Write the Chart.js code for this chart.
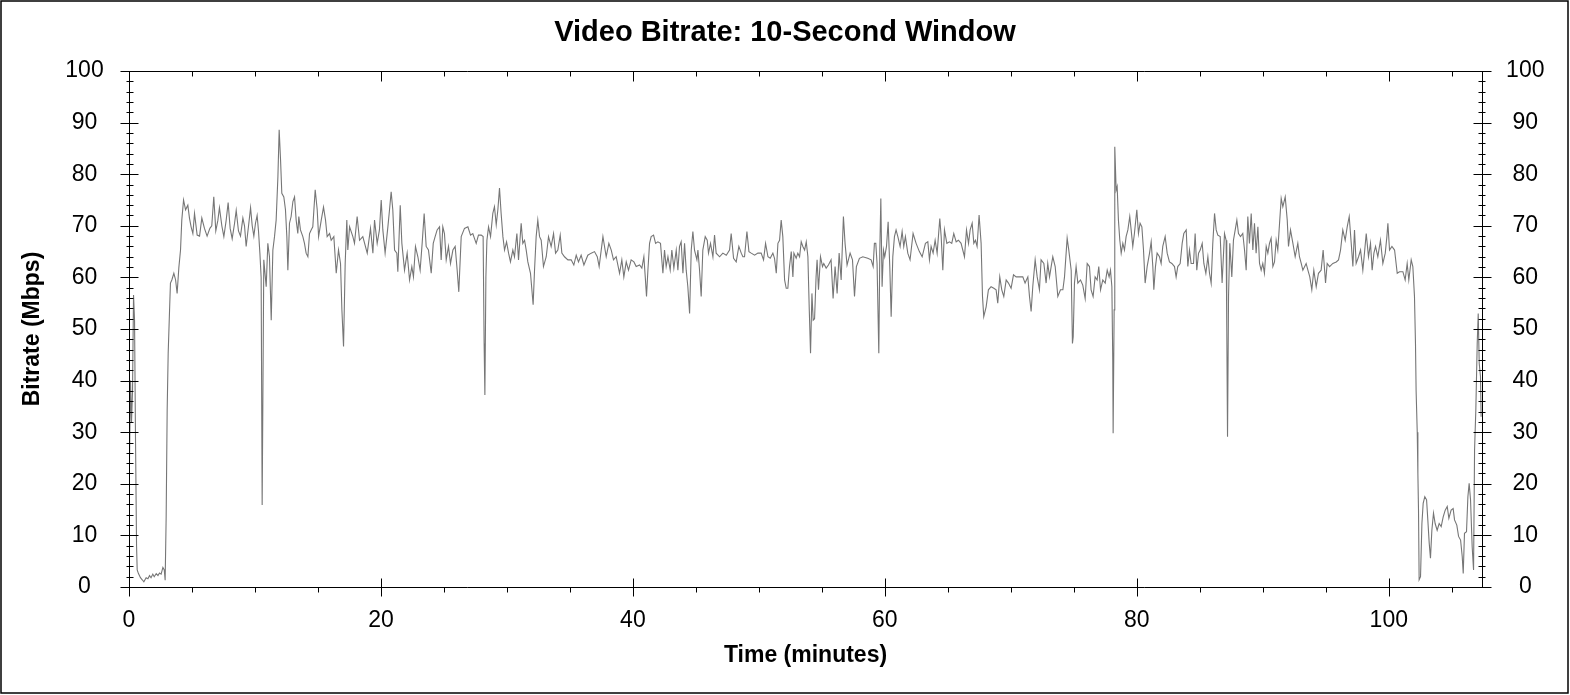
<!DOCTYPE html>
<html lang="en">
<head>
    <meta charset="UTF-8">
    <title>Video Bitrate: 10-Second Window</title>
    <style>
        html, body { margin: 0; padding: 0; background: #fff; }
        canvas { display: block; }
    </style>
</head>
<body>
<canvas id="bitrate-chart" width="1570" height="695"></canvas>

<script src="https://cdn.jsdelivr.net/npm/chart.js@4.4.1/dist/chart.umd.min.js"></script>
<script>
    // Samples: time in minutes, bitrate in Mbps
    const minutes = [
        0, 0.04, 0.12, 0.2, 0.28, 0.36, 0.44, 0.52, 0.6, 0.65, 0.75, 0.91, 1.05, 1.18, 1.36, 1.5, 1.63, 1.75, 1.89, 2.0,
        2.16, 2.3, 2.42, 2.55, 2.69, 2.8, 2.87, 2.95, 3.03, 3.11, 3.22, 3.29, 3.4, 3.56, 3.7, 3.82, 3.96, 4.09, 4.19, 4.33,
        4.49, 4.67, 4.8, 4.93, 5.07, 5.2, 5.41, 5.6, 5.78, 5.99, 6.2, 6.42, 6.57, 6.73, 6.89, 7.05, 7.18, 7.37, 7.53, 7.71,
        7.87, 8.03, 8.19, 8.38, 8.51, 8.69, 8.85, 9.04, 9.17, 9.3, 9.49, 9.65, 9.78, 9.91, 10.04, 10.17, 10.28, 10.39, 10.49, 10.57,
        10.7, 10.89, 11.02, 11.15, 11.29, 11.42, 11.55, 11.68, 11.82, 11.92, 12.03, 12.13, 12.29, 12.42, 12.53, 12.61, 12.74, 12.87, 13.01, 13.14,
        13.27, 13.4, 13.48, 13.61, 13.8, 13.93, 14.06, 14.2, 14.33, 14.46, 14.59, 14.78, 14.94, 15.05, 15.26, 15.44, 15.6, 15.73, 15.92, 16.05,
        16.26, 16.45, 16.63, 16.79, 16.9, 17.03, 17.16, 17.29, 17.37, 17.51, 17.77, 17.9, 18.11, 18.3, 18.56, 18.91, 19.17, 19.36, 19.49, 19.7,
        19.88, 20.02, 20.15, 20.33, 20.55, 20.68, 20.81, 20.94, 21.08, 21.26, 21.34, 21.53, 21.66, 21.87, 22.08, 22.27, 22.45, 22.58, 22.74, 22.93,
        23.11, 23.27, 23.43, 23.59, 23.77, 23.99, 24.15, 24.3, 24.46, 24.65, 24.78, 24.91, 25.04, 25.18, 25.36, 25.52, 25.71, 25.89, 26.05, 26.18,
        26.37, 26.63, 26.9, 27.11, 27.29, 27.56, 27.74, 27.96, 28.11, 28.19, 28.25, 28.33, 28.41, 28.54, 28.7, 28.88, 29.01, 29.15, 29.28, 29.41,
        29.54, 29.68, 29.81, 29.97, 30.13, 30.28, 30.47, 30.6, 30.79, 30.92, 31.13, 31.26, 31.4, 31.53, 31.66, 31.87, 32.08, 32.19, 32.32, 32.45,
        32.59, 32.72, 32.9, 33.12, 33.3, 33.51, 33.7, 33.86, 34.04, 34.23, 34.36, 34.57, 34.84, 35.1, 35.31, 35.5, 35.68, 35.89, 36.11, 36.42,
        36.69, 36.95, 37.17, 37.32, 37.62, 37.88, 38.09, 38.28, 38.46, 38.67, 38.94, 39.12, 39.28, 39.47, 39.65, 39.86, 40.08, 40.26, 40.53, 40.71,
        40.87, 40.98, 41.08, 41.19, 41.32, 41.45, 41.64, 41.8, 41.98, 42.19, 42.38, 42.51, 42.64, 42.78, 42.96, 43.09, 43.25, 43.44, 43.57, 43.7,
        43.83, 43.97, 44.1, 44.23, 44.36, 44.5, 44.63, 44.76, 44.89, 45.08, 45.16, 45.29, 45.42, 45.55, 45.74, 45.9, 46.0, 46.16, 46.35, 46.48,
        46.61, 46.88, 47.14, 47.41, 47.67, 47.8, 47.99, 48.2, 48.41, 48.6, 48.73, 48.86, 49.05, 49.21, 49.39, 49.66, 49.92, 50.18, 50.37, 50.53,
        50.72, 50.9, 51.11, 51.24, 51.38, 51.51, 51.64, 51.77, 51.9, 52.04, 52.17, 52.3, 52.43, 52.57, 52.7, 52.78, 52.96, 53.09, 53.23, 53.36,
        53.49, 53.63, 53.76, 53.89, 54.0, 54.1, 54.21, 54.31, 54.42, 54.54, 54.62, 54.73, 54.89, 55.05, 55.15, 55.34, 55.52, 55.73, 55.89, 56.05,
        56.21, 56.37, 56.53, 56.71, 56.84, 57.0, 57.24, 57.43, 57.59, 57.74, 57.98, 58.25, 58.64, 58.91, 59.07, 59.17, 59.28, 59.38, 59.52, 59.6,
        59.68, 59.78, 59.89, 59.99, 60.13, 60.26, 60.39, 60.5, 60.63, 60.76, 60.89, 61.03, 61.21, 61.37, 61.5, 61.63, 61.82, 62.0, 62.24, 62.48,
        62.74, 62.96, 63.22, 63.41, 63.54, 63.67, 63.83, 63.99, 64.15, 64.36, 64.47, 64.6, 64.73, 64.92, 65.13, 65.31, 65.47, 65.66, 65.84, 66.05,
        66.32, 66.48, 66.64, 66.77, 66.93, 67.06, 67.19, 67.32, 67.48, 67.64, 67.75, 67.85, 68.04, 68.22, 68.43, 68.65, 68.83, 68.96, 69.12, 69.28,
        69.44, 69.63, 69.81, 70.02, 70.21, 70.42, 70.68, 70.95, 71.13, 71.35, 71.48, 71.61, 71.74, 71.93, 72.09, 72.27, 72.4, 72.62, 72.8, 72.93,
        73.07, 73.2, 73.33, 73.52, 73.73, 73.94, 74.13, 74.26, 74.47, 74.6, 74.79, 74.89, 74.95, 75.05, 75.18, 75.32, 75.53, 75.71, 75.9, 76.06,
        76.24, 76.37, 76.53, 76.69, 76.85, 76.98, 77.12, 77.3, 77.49, 77.65, 77.8, 77.91, 78.02, 78.09, 78.12, 78.2, 78.25, 78.36, 78.44, 78.54,
        78.65, 78.76, 78.89, 79.02, 79.15, 79.29, 79.44, 79.55, 79.68, 79.81, 80.0, 80.13, 80.26, 80.4, 80.53, 80.66, 80.82, 81.01, 81.14, 81.27,
        81.35, 81.48, 81.61, 81.8, 81.93, 82.06, 82.25, 82.41, 82.59, 82.78, 82.99, 83.12, 83.25, 83.44, 83.6, 83.73, 83.92, 84.05, 84.18, 84.31,
        84.5, 84.63, 84.76, 84.9, 85.03, 85.19, 85.32, 85.48, 85.64, 85.77, 85.9, 86.03, 86.17, 86.3, 86.43, 86.62, 86.77, 86.96, 87.09, 87.14,
        87.2, 87.28, 87.38, 87.54, 87.67, 87.81, 87.94, 88.07, 88.23, 88.41, 88.55, 88.68, 88.81, 88.94, 89.08, 89.21, 89.34, 89.47, 89.61, 89.74,
        89.87, 90.0, 90.13, 90.27, 90.4, 90.53, 90.66, 90.8, 90.93, 91.06, 91.19, 91.33, 91.46, 91.59, 91.78, 91.94, 92.04, 92.2, 92.39, 92.57,
        92.78, 92.91, 93.05, 93.18, 93.44, 93.58, 93.73, 93.89, 94.05, 94.24, 94.42, 94.63, 94.79, 94.98, 95.11, 95.3, 95.56, 95.83, 96.01, 96.17,
        96.35, 96.54, 96.7, 96.86, 97.02, 97.15, 97.28, 97.41, 97.6, 97.76, 97.94, 98.07, 98.21, 98.39, 98.55, 98.68, 98.82, 98.95, 99.13, 99.34,
        99.53, 99.72, 99.85, 99.93, 100.06, 100.25, 100.46, 100.67, 100.85, 101.12, 101.3, 101.46, 101.59, 101.78, 101.91, 102.04, 102.12, 102.17, 102.26, 102.31,
        102.36, 102.41, 102.52, 102.63, 102.73, 102.86, 103.0, 103.1, 103.21, 103.31, 103.42, 103.55, 103.68, 103.84, 104.0, 104.16, 104.32, 104.48, 104.64, 104.77,
        104.95, 105.11, 105.22, 105.4, 105.54, 105.7, 105.83, 105.91, 106.01, 106.17, 106.28, 106.38, 106.49, 106.62, 106.73, 106.81, 106.91, 107.02, 107.1, 107.18,
        107.28, 107.33
    ];

    const mbps = [
        24, 24.6, 40, 32, 38, 56.6, 51.7, 27.8, 8, 3.3, 2.6, 1.8, 1.4, 1.0, 1.8, 1.6, 2.2, 1.8, 2.5, 2.0,
        2.6, 2.2, 2.7, 2.5, 3.8, 3.3, 1.3, 13.6, 34.3, 45.3, 53.7, 58.9, 59.5, 60.8, 59.5, 56.9, 62, 65.3, 71.1, 75,
        73.1, 74, 71.5, 69.8, 68.5, 72.4, 68.2, 68, 71.5, 69.5, 68, 69.5, 70, 75.6, 69, 71, 73.5, 70, 67.9, 71,
        74.5, 69.5, 67.5, 70.5, 73, 69, 68, 71.5, 70, 66, 70, 73.5, 70, 68, 70.5, 72, 69, 64.7, 60, 15.9,
        63.4, 58.2, 66.6, 64, 51.7, 65.3, 67.9, 71.1, 79.5, 88.6, 82.8, 76.3, 75.6, 73.1, 67.9, 61.4, 70.5, 71.8, 74.7, 75.6,
        71.1, 68.5, 71.8, 69.2, 67.9, 66.6, 64.7, 64, 68.5, 69.2, 69.8, 77, 73.1, 67.9, 71.1, 73.6, 71.1, 67.9, 68.5, 67.2,
        67.9, 60.8, 65.3, 62.7, 53.7, 46.6, 62.7, 71.1, 65.3, 69.8, 67.9, 66.6, 71.8, 67.2, 67.9, 64.7, 69.5, 64.7, 71.1, 66.6,
        69.2, 75, 69.2, 64.7, 69.8, 73.1, 76.6, 73.1, 65.3, 64.7, 61.1, 74, 66.6, 61.4, 64.7, 59.5, 62.1, 60.1, 66, 64,
        61.4, 66.6, 72.4, 66, 65.3, 60.8, 66.6, 67.9, 69.2, 69.8, 63.4, 69.8, 68.5, 63.4, 66, 62.7, 65.3, 66, 61.4, 57.2,
        67.9, 69.5, 69.8, 68.2, 68.5, 66.6, 68.2, 68.2, 67.9, 47.2, 37.2, 60.1, 67.2, 69.8, 67.9, 72.4, 73.7, 70.2, 73.1, 77.3,
        72.4, 67.9, 65.3, 66.9, 64.7, 63, 65.3, 64, 68.5, 63.4, 70.5, 66.6, 67.2, 65.3, 63, 60.8, 54.7, 61.4, 67.9, 71.1,
        67.9, 67.2, 62.1, 64, 67.9, 66, 68.5, 64.7, 65.3, 68.2, 64.7, 64, 63.4, 63.4, 62.4, 64.3, 63, 64.3, 62.4, 64.3,
        64.7, 65, 64, 62.1, 67.9, 64, 66.6, 65.3, 63.4, 64, 60.8, 63.4, 60.1, 63, 61.4, 63.4, 63, 62.1, 62.4, 61.8,
        64, 60.1, 56.3, 61.4, 66.6, 67.9, 68.2, 66.6, 66.9, 66.6, 60.8, 65.3, 62.1, 64, 61.4, 65.3, 61.8, 65.3, 61.4, 66,
        66.9, 60.8, 66.6, 61.4, 58.2, 53, 65.3, 68.9, 65.3, 63.4, 65.3, 61.4, 56.3, 65.3, 67.9, 67.2, 64.7, 66.6, 64, 68.2,
        64.7, 64, 64.7, 64.3, 65.3, 68.5, 63.7, 63, 66, 64.7, 64, 64, 68.9, 65, 64.7, 64.3, 64.7, 64.7, 63.4, 66.6,
        64, 63.7, 64.7, 63.7, 60.8, 66.6, 67.2, 71.1, 67.9, 59.5, 57.9, 57.9, 62.1, 65, 60.1, 64.7, 63.7, 64.7, 64, 66.9,
        66, 65.3, 66.9, 64, 53.7, 45.3, 56.9, 51.7, 52, 60.1, 63.4, 57.6, 64, 62.1, 62.7, 61.8, 62.4, 63.4, 55.9, 62.1,
        56.9, 64.7, 59.5, 71.8, 66.6, 62.4, 64.7, 63.4, 56.3, 62.1, 63.7, 64, 63.7, 63.4, 62.1, 66.6, 66.6, 62.7, 45.3, 65.3,
        75.3, 58.2, 65.3, 64, 66, 70.8, 62.1, 52.4, 64, 67.9, 69.2, 67.9, 66, 68.9, 66, 67.9, 64.7, 63.4, 68.5, 66.6,
        65, 64, 66.6, 66.9, 63.4, 66, 64.7, 67.2, 64.7, 71.4, 67.9, 61.4, 69.2, 66.6, 66.9, 66.6, 68.5, 66.9, 67.2, 66.6,
        64, 69.2, 66.6, 69.2, 70.5, 66.6, 67.2, 66, 72.1, 66.6, 56.3, 52.4, 54.3, 57.6, 58.2, 57.9, 57.6, 55, 60.1, 57.6,
        56.3, 59.5, 58.9, 57.9, 60.5, 60.1, 60.1, 60.1, 58.9, 60.1, 56.3, 53.4, 58.2, 63.4, 60.1, 57.6, 63.4, 62.7, 58.9, 62.7,
        60.1, 62.1, 64, 62.1, 56.3, 57.6, 57.6, 60.1, 67.6, 65.3, 61.4, 47.2, 48.5, 58.9, 62.1, 58.9, 59.5, 58.5, 55.9, 62.7,
        62.1, 57.6, 56.3, 60.1, 59.5, 62.1, 57.6, 59.5, 58.9, 61.4, 60.1, 61.4, 58.2, 44, 29.8, 53.7, 85.3, 76.9, 77.6, 71.1,
        67.2, 64.7, 66.6, 65.3, 67.9, 69.2, 71.8, 69.2, 66, 68.5, 73.1, 68.5, 70.5, 69.8, 65.3, 58.9, 62.1, 64.7, 66.9, 62.1,
        57.6, 62.1, 64.7, 64, 62.7, 66, 67.9, 64.7, 63, 62.7, 62.1, 60.1, 62.1, 62.7, 66.6, 68.5, 69.2, 62.1, 65.3, 62.7,
        62.7, 68.5, 61.4, 64.7, 65.3, 66.6, 62.7, 60.8, 64, 60.8, 58.9, 66.6, 72.4, 69.2, 68.2, 67.9, 58.9, 68.5, 67.2, 50.5,
        29.1, 56.3, 66.6, 60.1, 67.2, 69.2, 71.1, 68.5, 67.9, 68.5, 65.3, 61.4, 71.8, 66.6, 72.4, 65.3, 70.5, 64.7, 69.8, 62.7,
        61.4, 62.7, 60.8, 66, 64.7, 66.6, 67.6, 62.1, 63, 67.2, 65.3, 70.5, 75.3, 73.7, 75.6, 71.1, 66, 69.2, 66.6, 64,
        66.6, 64, 62.7, 61.4, 62.7, 61.4, 60.1, 57.6, 61.4, 58.2, 60.8, 61.4, 65.3, 58.9, 62.7, 62.1, 62.7, 63, 63.4, 65.3,
        69.2, 67.2, 69.8, 71.8, 66.6, 62.1, 69.2, 62.7, 64, 65.3, 61.4, 64.7, 68.5, 64, 66.6, 61.4, 64.7, 66, 64, 67.2,
        62.7, 64.7, 67.9, 70.5, 65.3, 66, 65.3, 60.8, 61.1, 61.1, 59.5, 62.7, 59.5, 63.4, 62.1, 56.3, 47.2, 38, 30, 22,
        14.9, 1.4, 2, 12.3, 16.2, 17.5, 16.9, 13, 8.5, 5.6, 11, 14.3, 12.3, 11, 12.3, 11.7, 13.6, 14.9, 15.6, 13.3,
        14.9, 15.2, 13, 12, 9.8, 9.1, 5.9, 2.6, 10.4, 10.7, 17.5, 20.1, 16.9, 7.8, 3.3, 26.6, 34.3, 47.2, 53, 43.3,
        40.8, 33
    ];

    const xTicks = [0, 20, 40, 60, 80, 100];
    const yTicks = [0, 10, 20, 30, 40, 50, 60, 70, 80, 90, 100];
    const xMax = 107.4;

    const FONT = "'Liberation Sans', Arial, sans-serif";

    // Draws the frame, the boxed plot border and the major/minor tick marks
    const axisFrame = {
        id: 'axisFrame',
        afterDraw(chart) {
            const ctx = chart.ctx;
            const {left, right, top, bottom} = chart.chartArea;
            const xs = chart.scales.x;
            const ys = chart.scales.y;
            const px = v => Math.round(v) + 0.5;
            const L = px(left), R = px(right), T = px(top), B = px(bottom);

            ctx.save();
            ctx.strokeStyle = '#000';

            // outer border of the picture
            ctx.lineWidth = 1.5;
            ctx.strokeRect(1, 1, chart.width - 3, chart.height - 3);
            ctx.lineWidth = 1;

            ctx.beginPath();
            ctx.rect(L, T, R - L, B - T);

            // x ticks, minor every 5 minutes
            for (let m = 0; m <= xMax; m += 5) {
                const x = px(xs.getPixelForValue(m));
                if (xTicks.includes(m)) {
                    ctx.moveTo(x, B - 9); ctx.lineTo(x, B + 9);
                    ctx.moveTo(x, T); ctx.lineTo(x, T + 10);
                } else {
                    ctx.moveTo(x, B); ctx.lineTo(x, B + 5);
                    ctx.moveTo(x, T); ctx.lineTo(x, T + 5);
                }
            }

            // y ticks, minor every 2 Mbps, on both sides
            for (let v = 0; v <= 100; v += 2) {
                const y = px(ys.getPixelForValue(v));
                if (yTicks.includes(v)) {
                    ctx.moveTo(L - 9, y); ctx.lineTo(L + 9, y);
                    ctx.moveTo(R - 9, y); ctx.lineTo(R + 9, y);
                } else {
                    ctx.moveTo(L - 3, y); ctx.lineTo(L + 4, y);
                    ctx.moveTo(R - 4, y); ctx.lineTo(R + 3, y);
                }
            }
            ctx.stroke();
            ctx.restore();
        }
    };

    const tickFont = {family: FONT, size: 23};
    const titleFont = {family: FONT, size: 23, weight: 'bold'};

    new Chart(document.getElementById('bitrate-chart'), {
        type: 'line',
        data: {
            datasets: [{
                label: 'Bitrate',
                data: minutes.map((t, i) => ({x: t, y: mbps[i]})),
                borderColor: 'rgb(118,118,118)',
                borderWidth: 1.1,
                pointRadius: 0,
                tension: 0,
                fill: false
            }]
        },
        options: {
            responsive: false,
            animation: false,
            devicePixelRatio: 1,
            layout: {padding: 0},
            plugins: {
                legend: {display: false},
                tooltip: {enabled: false},
                title: {
                    display: true,
                    text: 'Video Bitrate: 10-Second Window',
                    color: '#000',
                    font: {family: FONT, size: 29, weight: 'bold'},
                    padding: {top: 15.3, bottom: 20.9}
                }
            },
            scales: {
                x: {
                    type: 'linear',
                    position: 'bottom',
                    min: 0,
                    max: xMax,
                    grid: {display: false, drawTicks: false},
                    border: {display: false},
                    afterBuildTicks: s => { s.ticks = xTicks.map(v => ({value: v})); },
                    afterFit: s => { s.height = 108; },
                    ticks: {
                        color: '#000',
                        font: tickFont,
                        padding: 20,
                        maxRotation: 0,
                        autoSkip: false
                    },
                    title: {
                        display: true,
                        text: 'Time (minutes)',
                        color: '#000',
                        font: titleFont,
                        padding: {top: 0, bottom: 26}
                    }
                },
                y: {
                    position: 'left',
                    min: 0,
                    max: 100,
                    grid: {display: false, drawTicks: false},
                    border: {display: false},
                    afterBuildTicks: s => { s.ticks = yTicks.map(v => ({value: v})); },
                    afterFit: s => { s.width = 129; },
                    ticks: {
                        color: '#000',
                        font: tickFont,
                        padding: 25.3,
                        crossAlign: 'center'
                    },
                    title: {
                        display: true,
                        text: 'Bitrate (Mbps)',
                        color: '#000',
                        font: titleFont,
                        padding: {top: 19, bottom: 0}
                    }
                },
                y2: {
                    position: 'right',
                    min: 0,
                    max: 100,
                    display: true,
                    grid: {display: false, drawTicks: false},
                    border: {display: false},
                    afterBuildTicks: s => { s.ticks = yTicks.map(v => ({value: v})); },
                    afterFit: s => { s.width = 88; },
                    ticks: {
                        color: '#000',
                        font: tickFont,
                        padding: 24.1,
                        crossAlign: 'center'
                    }
                }
            }
        },
        plugins: [axisFrame]
    });
</script>
</body>
</html>
